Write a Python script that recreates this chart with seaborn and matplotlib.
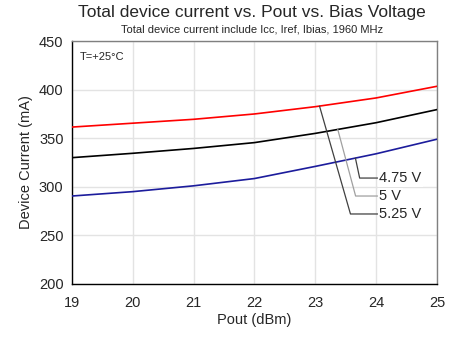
import numpy as np
import pandas as pd
import matplotlib
matplotlib.use("Agg")
import matplotlib.pyplot as plt
import seaborn as sns

# Measured total device current (mA) versus output power (dBm)
pout_dbm = [19, 20, 21, 22, 23, 24, 25]
current_525v = [361.5, 365.5, 369.5, 375.0, 382.5, 391.5, 403.5]
current_500v = [330.0, 334.5, 339.5, 345.5, 355.0, 366.0, 379.5]
current_475v = [290.5, 295.0, 301.0, 308.5, 321.0, 334.0, 349.0]
bias_labels = ["5.25 V", "5 V", "4.75 V"]
series_colors = ["#ff0000", "#000000", "#1c1c9c"]

x_ticks = [19, 20, 21, 22, 23, 24, 25]
y_ticks = [200, 250, 300, 350, 400, 450]

df = pd.DataFrame({
    "Pout": pout_dbm * 3,
    "Current": current_525v + current_500v + current_475v,
    "Bias": sum([[b] * len(pout_dbm) for b in bias_labels], []),
})

sns.set_style("white")
plt.rcParams["font.family"] = ["Liberation Sans", "DejaVu Sans"]

fig = plt.figure(figsize=(4.58, 3.40), dpi=100)
ax = fig.add_axes([0.157, 0.165, 0.797, 0.714])

sns.lineplot(data=df, x="Pout", y="Current", hue="Bias", hue_order=bias_labels,
             palette=series_colors, linewidth=1.2, legend=False, ax=ax, zorder=3)

ax.set_xlim(19, 25)
ax.set_ylim(200, 450)
ax.set_xticks(x_ticks)
ax.set_yticks(y_ticks)
ax.tick_params(axis="both", length=0, labelsize=10.5, pad=6)
ax.tick_params(axis="x", pad=9)
ax.grid(True, color="#e3e3e3", linewidth=1.0, zorder=0)
ax.set_axisbelow(True)

for side in ["left", "bottom"]:
    ax.spines[side].set_color("black")
    ax.spines[side].set_linewidth(1.0)
for side in ["top", "right"]:
    ax.spines[side].set_color("#808080")
    ax.spines[side].set_linewidth(1.0)

ax.set_xlabel("Pout (dBm)", fontsize=10.5, labelpad=2)
ax.set_ylabel("Device Current (mA)", fontsize=10.5, labelpad=4)

fig.text(0.55, 0.962, "Total device current vs. Pout vs. Bias Voltage",
         ha="center", va="center", fontsize=12.5)
fig.text(0.55, 0.912, "Total device current include Icc, Iref, Ibias, 1960 MHz",
         ha="center", va="center", fontsize=8)

ax.text(19.13, 434, "T=+25°C", fontsize=8, ha="left", va="center")

# Leader-line labels for each bias voltage
leaders = [
    ("4.75 V", current_475v, 23.66, 309, "#404040", -78),
    ("5 V", current_500v, 23.37, 290.5, "#a0a0a0", -75),
    ("5.25 V", current_525v, 23.07, 272, "#404040", -74),
]
for text, values, x_at, y_text, col, ang in leaders:
    y_at = np.interp(x_at, pout_dbm, values)
    ax.annotate(text, xy=(x_at, y_at), xytext=(24.05, y_text),
                ha="left", va="center", fontsize=10.5, zorder=5,
                bbox=dict(boxstyle="square,pad=0.1", fc="white", ec="none"),
                arrowprops=dict(arrowstyle="-", color=col, lw=0.9,
                                shrinkA=0, shrinkB=0,
                                connectionstyle=f"angle,angleA=0,angleB={ang},rad=0"))

fig.savefig("out.png", dpi=100)
